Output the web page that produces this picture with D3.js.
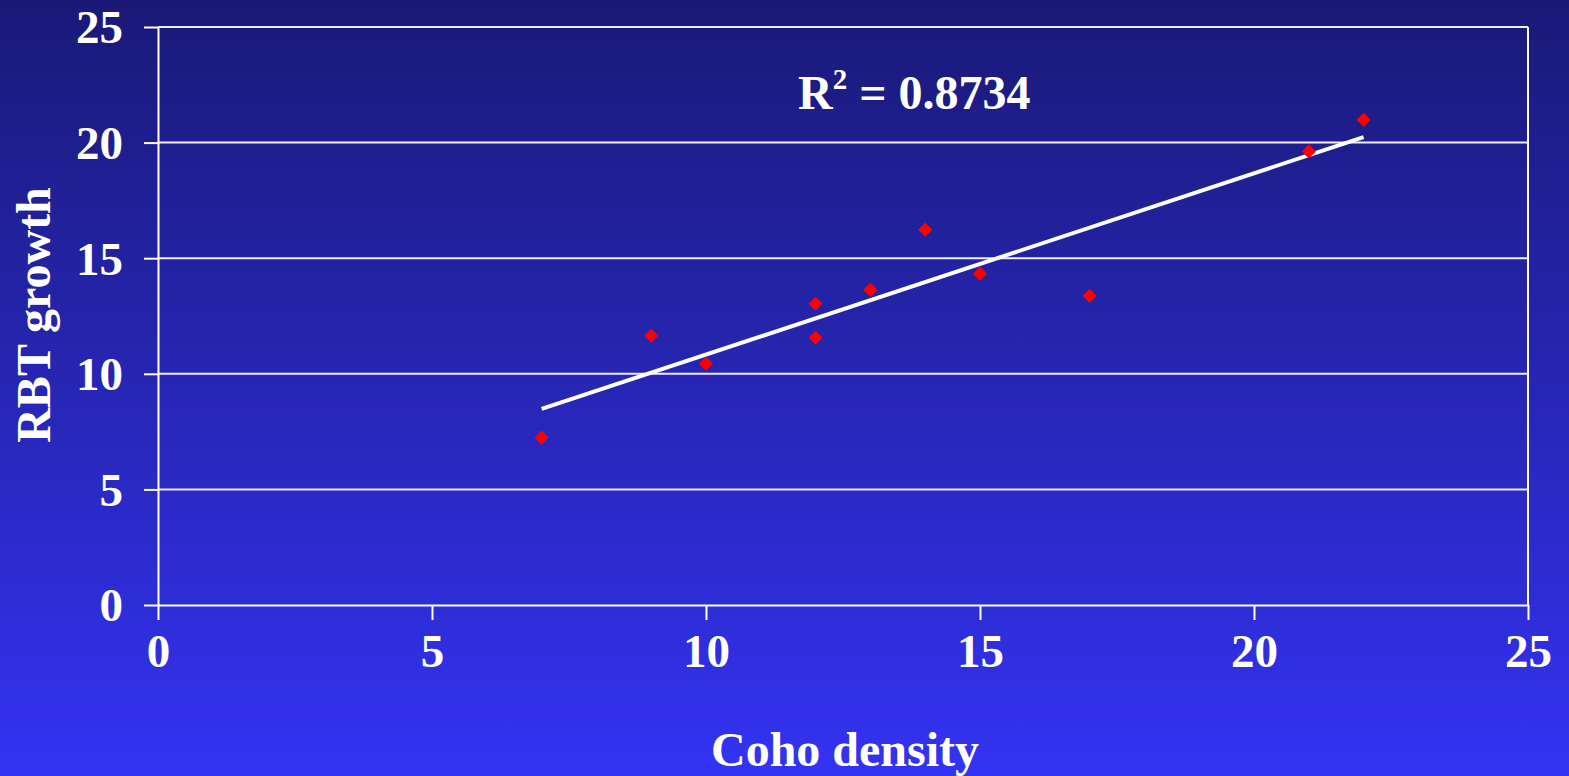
<!DOCTYPE html>
<html>
<head>
<meta charset="utf-8">
<script src="https://cdn.jsdelivr.net/npm/d3@7"></script>
<style>
  html, body { margin: 0; padding: 0; }
  body { width: 1569px; height: 776px; overflow: hidden; }
  text { font-family: "Liberation Serif", "Times New Roman", serif; font-weight: bold; fill: #fff; }
</style>
</head>
<body>
<script>
// coho density (x) vs RBT growth (y)
var cohoDensity = [7, 9, 10, 12, 12, 13, 14, 15, 17, 21, 22];
var rbtGrowth = [7.24, 11.65, 10.44, 13.03, 11.56, 13.64, 16.23, 14.33, 13.37, 19.62, 20.98];
var xTicks = [0, 5, 10, 15, 20, 25];
var yTicks = [0, 5, 10, 15, 20, 25];
var rSquaredLabel = "0.8734";

var W = 1569, H = 776;
var margin = {top: 27, right: 41, bottom: 171, left: 158},
    width = W - margin.left - margin.right,
    height = H - margin.top - margin.bottom;

var svg = d3.select("body").append("svg")
    .attr("width", W)
    .attr("height", H);

// background gradient
var grad = svg.append("defs").append("linearGradient")
    .attr("id", "bg")
    .attr("x1", 0).attr("y1", 0).attr("x2", 0).attr("y2", 1);
grad.append("stop").attr("offset", "0%").attr("stop-color", "#1a1977");
grad.append("stop").attr("offset", "100%").attr("stop-color", "#3333f3");
svg.append("rect").attr("width", W).attr("height", H).attr("fill", "url(#bg)");

var x = d3.scaleLinear().domain([0, 25]).range([0, width]),
    y = d3.scaleLinear().domain([0, 25]).range([height, 0]);

var g = svg.append("g")
    .attr("transform", "translate(" + margin.left + "," + margin.top + ")");

// horizontal gridlines
g.selectAll(".grid")
    .data(yTicks.filter(function(d) { return d > 0; }))
    .enter().append("line")
    .attr("x1", 0).attr("x2", width)
    .attr("y1", function(d) { return y(d); })
    .attr("y2", function(d) { return y(d); })
    .attr("stroke", "#eeeef8")
    .attr("stroke-width", 2);

// right border
g.append("line")
    .attr("x1", width).attr("x2", width)
    .attr("y1", 0).attr("y2", height)
    .attr("stroke", "#fff").attr("stroke-width", 2);

// X axis
var xAxis = g.append("g")
    .attr("transform", "translate(0," + height + ")")
    .call(d3.axisBottom(x).tickValues(xTicks).tickSize(15).tickPadding(14).tickSizeOuter(0));

// Y axis
var yAxis = g.append("g")
    .call(d3.axisLeft(y).tickValues(yTicks).tickSize(14).tickPadding(21).tickSizeOuter(0));

[xAxis, yAxis].forEach(function(a) {
    a.select(".domain").attr("stroke", "#fff").attr("stroke-width", 2);
    a.selectAll(".tick line").attr("stroke", "#fff").attr("stroke-width", 2);
    a.selectAll(".tick text")
        .attr("fill", "#fff")
        .style("font-family", "'Liberation Serif', serif")
        .style("font-weight", "bold")
        .style("font-size", "47px");
});
xAxis.selectAll(".tick text").attr("dy", "0.71em");
yAxis.selectAll(".tick text").attr("dy", "0.34em");

// linear trendline (least squares)
var mx = d3.mean(cohoDensity),
    my = d3.mean(rbtGrowth),
    sxy = d3.sum(cohoDensity, function(v, i) { return (v - mx) * (rbtGrowth[i] - my); }),
    sxx = d3.sum(cohoDensity, function(v) { return (v - mx) * (v - mx); }),
    slope = sxy / sxx,
    intercept = my - slope * mx;
var xExt = d3.extent(cohoDensity);

g.append("line")
    .attr("x1", x(xExt[0])).attr("y1", y(intercept + slope * xExt[0]))
    .attr("x2", x(xExt[1])).attr("y2", y(intercept + slope * xExt[1]))
    .attr("stroke", "#fff")
    .attr("stroke-width", 4);

// points
var diamond = d3.symbol().type(d3.symbolSquare).size(100);
g.selectAll(".pt")
    .data(cohoDensity.map(function(v, i) { return [v, rbtGrowth[i]]; }))
    .enter().append("path")
    .attr("class", "pt")
    .attr("d", diamond)
    .attr("transform", function(d) { return "translate(" + x(d[0]) + "," + y(d[1]) + ") rotate(45)"; })
    .attr("fill", "#ff0000");

// R squared label
var rt = svg.append("text")
    .attr("x", 798).attr("y", 109)
    .style("font-size", "48px");
rt.append("tspan").text("R");
rt.append("tspan").attr("dy", -20).style("font-size", "29px").text("2");
rt.append("tspan").attr("dy", 20).text(" = " + rSquaredLabel);

// axis titles
svg.append("text")
    .attr("x", 845).attr("y", 766)
    .attr("text-anchor", "middle")
    .style("font-size", "48px")
    .text("Coho density");

svg.append("text")
    .attr("transform", "translate(50,315) rotate(-90)")
    .attr("text-anchor", "middle")
    .style("font-size", "48px")
    .text("RBT growth");
</script>
</body>
</html>
